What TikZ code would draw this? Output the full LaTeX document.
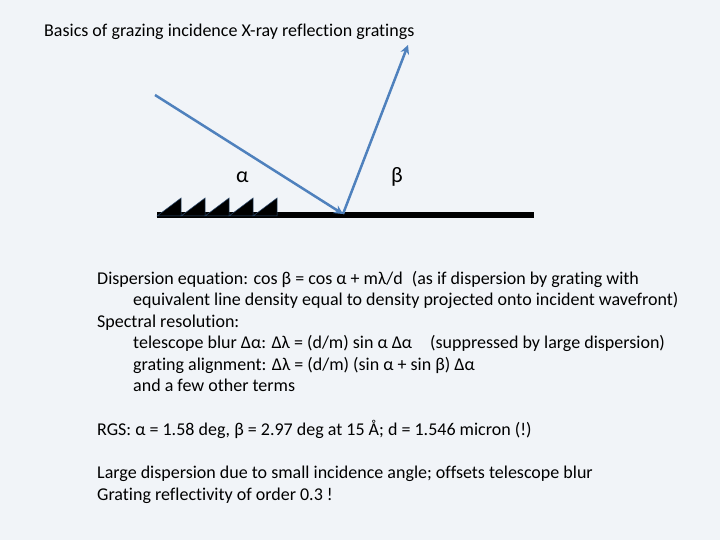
\documentclass[tikz,border=0pt]{standalone}
\usepackage{fontspec}
\setmainfont[Ligatures=NoCommon]{Carlito}
\usetikzlibrary{arrows.meta}
\definecolor{bg}{HTML}{F1F4F8}
\definecolor{ray}{HTML}{4F81BD}
\begin{document}
\begin{tikzpicture}[x=1pt,y=-1pt,
  txt/.style={anchor=base west,inner sep=0pt,font=\fontsize{18}{21}\selectfont},
  ray/.style={draw=ray,line width=2.5pt},
  tooth/.style={fill=black,draw=ray!60!black,line width=0.5pt}]
\fill[bg] (0,0) rectangle (720,540);
\useasboundingbox (0,0) rectangle (720,540);
\node[txt,font=\fontsize{18}{21}\selectfont] (title) at (44,37) {Basics of grazing incidence X-ray reflection gratings};
% grating
\draw[line width=6pt] (157,215) -- (534,215);
\foreach \i in {0,...,4}{
  \fill[tooth] (157+24*\i,216) -- (181+24*\i,198) -- (181+24*\i,216) -- cycle;}
\coordinate (src) at (155,95);
\coordinate (hit) at (343,214);
\coordinate (dst) at (408,45);
\draw[ray,-{Stealth[length=9pt,width=9pt]}] (src) -- (hit);
\draw[ray,-{Stealth[length=9pt,width=9pt]}] (hit) -- (dst);
\node[txt,font=\fontsize{22}{24}\selectfont] (al) at (236,183) {α};
\node[txt,font=\fontsize{22}{24}\selectfont] (be) at (391,183) {β};
\node[txt] (l1) at (97,284) {Dispersion equation: cos β = cos α + mλ/d\enspace(as if dispersion by grating with};
\node[txt] (l2) at (133,305) {equivalent line density equal to density projected onto incident wavefront)};
\node[txt] (l3) at (97,327) {Spectral resolution:};
\node[txt] (l4) at (133,348) {telescope blur Δα: Δλ = (d/m) sin α Δα\quad(suppressed by large dispersion)};
\node[txt] (l5) at (133,370) {grating alignment: Δλ = (d/m) (sin α + sin β) Δα};
\node[txt] (l6) at (133,391) {and a few other terms};
\node[txt] (l7) at (97,435) {RGS: α = 1.58 deg, β = 2.97 deg at 15 Å; d = 1.546 micron (!)};
\node[txt] (l8) at (97,478) {Large dispersion due to small incidence angle; offsets telescope blur};
\node[txt] (l9) at (97,500) {Grating reflectivity of order 0.3 !};
\end{tikzpicture}
\end{document}
